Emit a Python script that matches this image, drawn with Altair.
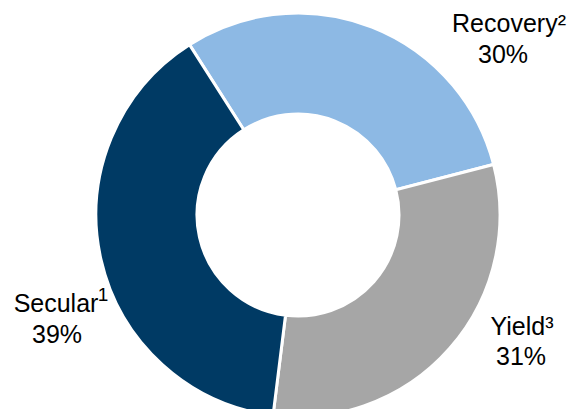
import math
import altair as alt
import pandas as pd

categories = ["Recovery", "Yield", "Secular"]
values = [30, 31, 39]
names = ["Recovery\u00b2", "Yield\u00b3", "Secular"]
pct_labels = ["30%", "31%", "39%"]
colors = ["#8DB9E4", "#A6A6A6", "#003A64"]

df = pd.DataFrame({
    "category": categories,
    "value": values,
    "name": names,
    "pct": pct_labels,
    "order": list(range(len(categories))),
})

start = math.radians(-32.5)
cx, cy = 290, 207

arc = alt.Chart(df).mark_arc(
    outerRadius=202, innerRadius=101, stroke="white", strokeWidth=3
).encode(
    theta=alt.Theta("value:Q", stack=True,
                    scale=alt.Scale(range=[start, start + 2 * math.pi])),
    order=alt.Order("order:Q"),
    color=alt.Color("category:N", legend=None,
                    scale=alt.Scale(domain=categories, range=colors)),
    x=alt.value(cx),
    y=alt.value(cy),
)

FONT = "Liberation Sans"


def label(cat, field, x, y, size=25):
    return alt.Chart(df).transform_filter(
        alt.datum.category == cat
    ).mark_text(
        font=FONT, fontSize=size, align="center", baseline="alphabetic", color="black"
    ).encode(
        text=alt.Text(f"{field}:N"),
        x=alt.value(x),
        y=alt.value(y),
    )


sup1 = alt.Chart(df).transform_filter(
    alt.datum.category == "Secular"
).mark_text(
    font=FONT, fontSize=19, align="center", baseline="alphabetic", color="black", text="1"
).encode(x=alt.value(95), y=alt.value(293))

chart = alt.layer(
    arc,
    label("Recovery", "name", 501, 24),
    label("Recovery", "pct", 495, 55),
    label("Yield", "name", 514, 327),
    label("Yield", "pct", 513, 357),
    label("Secular", "name", 48, 304),
    label("Secular", "pct", 49, 335),
    sup1,
).properties(
    width=566, height=401, autosize=alt.AutoSizeParams(type="none"), padding=0
).configure_view(stroke=None)

chart.save("out.html", embed_options={"renderer": "svg", "actions": False})
